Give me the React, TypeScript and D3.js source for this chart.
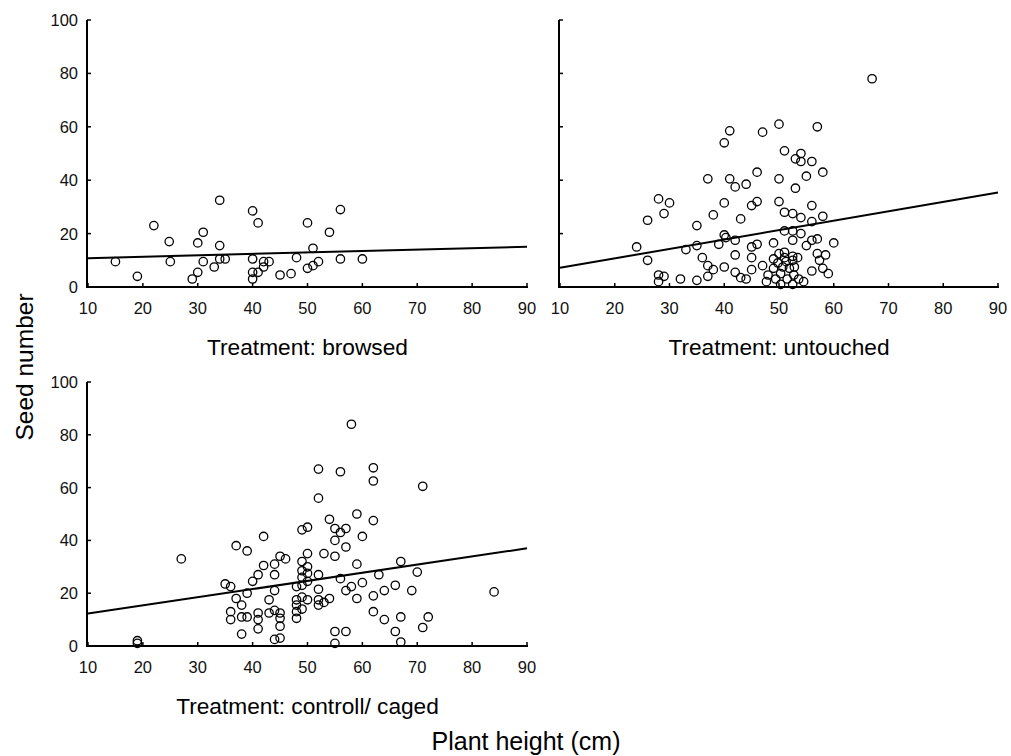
import React from "react";
import * as d3 from "d3";

const xTicks = [10, 20, 30, 40, 50, 60, 70, 80, 90];
const yTicks = [0, 20, 40, 60, 80, 100];

const browsedPoints: [number, number][] = [
  [15, 9.5], [19, 4], [22, 23], [24.8, 17], [25, 9.5], [29, 3], [30, 5.5], [30, 16.5], [31, 20.5], [31, 9.5],
  [33, 7.5], [34, 32.5], [34, 15.5], [34, 10.5], [35, 10.5], [40, 28.5], [41, 24], [40, 10.5], [40, 5.5], [40, 3],
  [41, 5.5], [42, 7.5], [42, 9.5], [43, 9.5], [45, 4.5], [47, 5], [48, 11], [50, 24], [51, 14.5], [50, 7],
  [51, 8], [52, 9.5], [54, 20.5], [56, 29], [56, 10.5], [60, 10.5],
];

const untouchedPoints: [number, number][] = [
  [24, 15], [26, 10], [26, 25], [28, 33], [29, 27.5], [30, 31.5], [28, 4.5], [29, 4], [28, 2], [32, 3],
  [33, 14], [35, 23], [35, 15.5], [35, 2.5], [36, 11], [37, 40.5], [37, 8], [38, 27], [38, 6.5], [37, 4],
  [39, 16], [40, 54], [41, 58.5], [40, 31.5], [40, 19.5], [40.3, 18.5], [40, 7.5], [41, 40.5], [42, 37.5], [42, 17.5],
  [42, 12], [42, 5.5], [43, 25.5], [43, 3.5], [44, 38.5], [44, 3], [45, 30.5], [46, 32], [45, 15], [46, 16],
  [45, 11], [45, 6.5], [46, 43], [47, 58], [47, 8], [48, 4.5], [47.7, 2], [49, 16.5], [49, 10.5], [49.8, 9],
  [49, 7], [49.4, 3], [50, 61], [50, 40.5], [50, 32], [50, 12.5], [50.7, 7.5], [50.3, 5], [50.3, 1], [51, 51],
  [51, 28], [51, 21], [51, 13], [51, 11], [51.3, 9.5], [51.9, 7], [51.5, 3], [52.5, 27.5], [52.5, 21], [52.5, 17.5],
  [52.5, 11.5], [52.5, 10], [52.8, 7.5], [52.7, 4.5], [52.5, 1], [53, 48], [53, 37], [53.4, 11], [53.6, 3], [54, 50],
  [54, 47], [54, 26], [54, 20], [54.5, 2], [55, 41.5], [55, 15.5], [56, 47], [56, 30.5], [56, 24.5], [56, 17.5],
  [56, 6], [57, 60], [57, 18], [57, 12.5], [57.4, 10], [58, 43], [58, 26.5], [58.5, 12], [58, 7], [59, 5],
  [60, 16.5], [67, 78],
];

const cagedPoints: [number, number][] = [
  [19, 2], [19, 1], [27, 33], [58, 84], [52, 67], [56, 66], [52, 56], [54, 48], [49, 44], [50, 45],
  [55, 44.5], [57, 44.5], [55, 40], [57, 37.5], [42, 41.5], [37, 38], [39, 36], [45, 34], [46, 33], [50, 35],
  [49, 32], [50, 30], [53, 35], [55, 34], [42, 30.5], [41, 27], [44, 31], [44, 27], [40, 24.5], [35, 23.5],
  [36, 22.5], [37, 18], [38, 15.5], [39, 20], [43, 17.5], [44, 21], [49, 28.5], [49, 26], [50, 27.5], [52, 27],
  [48, 22.5], [49, 23], [50, 24.5], [52, 21.5], [52, 17.5], [54, 18], [56, 25.5], [57, 21], [48, 17.5], [49, 18.5],
  [50, 17.5], [48, 15.5], [48, 13], [49, 14], [48, 10.5], [36, 13], [36, 10], [38, 11], [39, 11], [41, 12.5],
  [41, 10], [41, 6.5], [43, 12.5], [44, 13.5], [45, 12.5], [45, 10.5], [45, 7.5], [38, 4.5], [44, 2.5], [45, 3],
  [55, 5.5], [57, 5.5], [55, 1], [62, 67.5], [62, 62.5], [71, 60.5], [59, 50], [62, 47.5], [56, 43], [60, 41.5],
  [59, 31], [67, 32], [63, 27], [70, 28], [60, 24], [58, 22.5], [59, 18], [62, 19], [64, 21], [66, 23],
  [69, 21], [84, 20.5], [62, 13], [64, 10], [67, 11], [72, 11], [71, 7], [66, 5.5], [67, 1.5], [52, 15.5],
  [53, 16.5],
];

const fitBrowsed = [10.8, 15.1];
const fitUntouched = [7.2, 35.4];
const fitCaged = [12.3, 37];

const FONT = "'Liberation Sans', Arial, sans-serif";

type PanelProps = {
  left: number;
  right: number;
  top: number;
  bottom: number;
  points: [number, number][];
  fit: number[];
  title: string;
  yLabels: boolean;
};

function Panel({ left, right, top, bottom, points, fit, title, yLabels }: PanelProps) {
  const x = d3.scaleLinear().domain([10, 90]).range([left, right]);
  const y = d3.scaleLinear().domain([0, 100]).range([bottom, top]);
  const line = d3
    .line<[number, number]>()
    .x((d) => x(d[0]))
    .y((d) => y(d[1]));
  const fitData: [number, number][] = [
    [10, fit[0]],
    [90, fit[1]],
  ];
  const axisX = left - 1;
  return (
    <g>
      <line x1={axisX} x2={axisX} y1={y(100)} y2={bottom} stroke="#000" strokeWidth={2} />
      <line x1={axisX - 1} x2={right + 1} y1={bottom} y2={bottom} stroke="#000" strokeWidth={2} />
      {yTicks.map((t) => (
        <g key={"y" + t}>
          <line x1={axisX} x2={axisX + 4} y1={y(t)} y2={y(t)} stroke="#000" strokeWidth={1.5} />
          {yLabels && (
            <text
              x={axisX - 9}
              y={y(t)}
              textAnchor="end"
              dominantBaseline="central"
              fontSize={16.5}
              fontFamily={FONT}
              fill="#111"
            >
              {t}
            </text>
          )}
        </g>
      ))}
      {xTicks.map((t) => (
        <g key={"x" + t}>
          <line x1={x(t)} x2={x(t)} y1={bottom} y2={bottom - 4} stroke="#000" strokeWidth={1.5} />
          <text
            x={x(t)}
            y={bottom + 21}
            textAnchor="middle"
            dominantBaseline="central"
            fontSize={16.5}
            fontFamily={FONT}
            fill="#111"
          >
            {t}
          </text>
        </g>
      ))}
      {points.map((p, i) => (
        <circle key={i} cx={x(p[0])} cy={y(p[1])} r={4.2} fill="none" stroke="#000" strokeWidth={1.3} />
      ))}
      <path d={line(fitData) || ""} fill="none" stroke="#000" strokeWidth={2} />
      <text
        x={(left + right) / 2}
        y={bottom + 60}
        textAnchor="middle"
        dominantBaseline="central"
        fontSize={22.7}
        fontFamily={FONT}
        fill="#000"
      >
        {title}
      </text>
    </g>
  );
}

export default function App() {
  return (
    <div style={{ position: "absolute", left: 0, top: 0 }}>
      <svg width={1011} height={756} style={{ display: "block", background: "#fff" }}>
        <Panel left={88} right={527} top={20} bottom={287} points={browsedPoints} fit={fitBrowsed} title="Treatment: browsed" yLabels={true} />
        <Panel left={560} right={998} top={20} bottom={287} points={untouchedPoints} fit={fitUntouched} title="Treatment: untouched" yLabels={false} />
        <Panel left={88} right={527} top={382} bottom={646} points={cagedPoints} fit={fitCaged} title="Treatment: controll/ caged" yLabels={true} />
        <text
          x={526}
          y={741}
          textAnchor="middle"
          dominantBaseline="central"
          fontSize={25}
          fontFamily={FONT}
          fill="#000"
        >
          Plant height (cm)
        </text>
        <text
          transform="translate(24,367) rotate(-90)"
          textAnchor="middle"
          dominantBaseline="central"
          fontSize={24.5}
          fontFamily={FONT}
          fill="#000"
        >
          Seed number
        </text>
      </svg>
    </div>
  );
}
